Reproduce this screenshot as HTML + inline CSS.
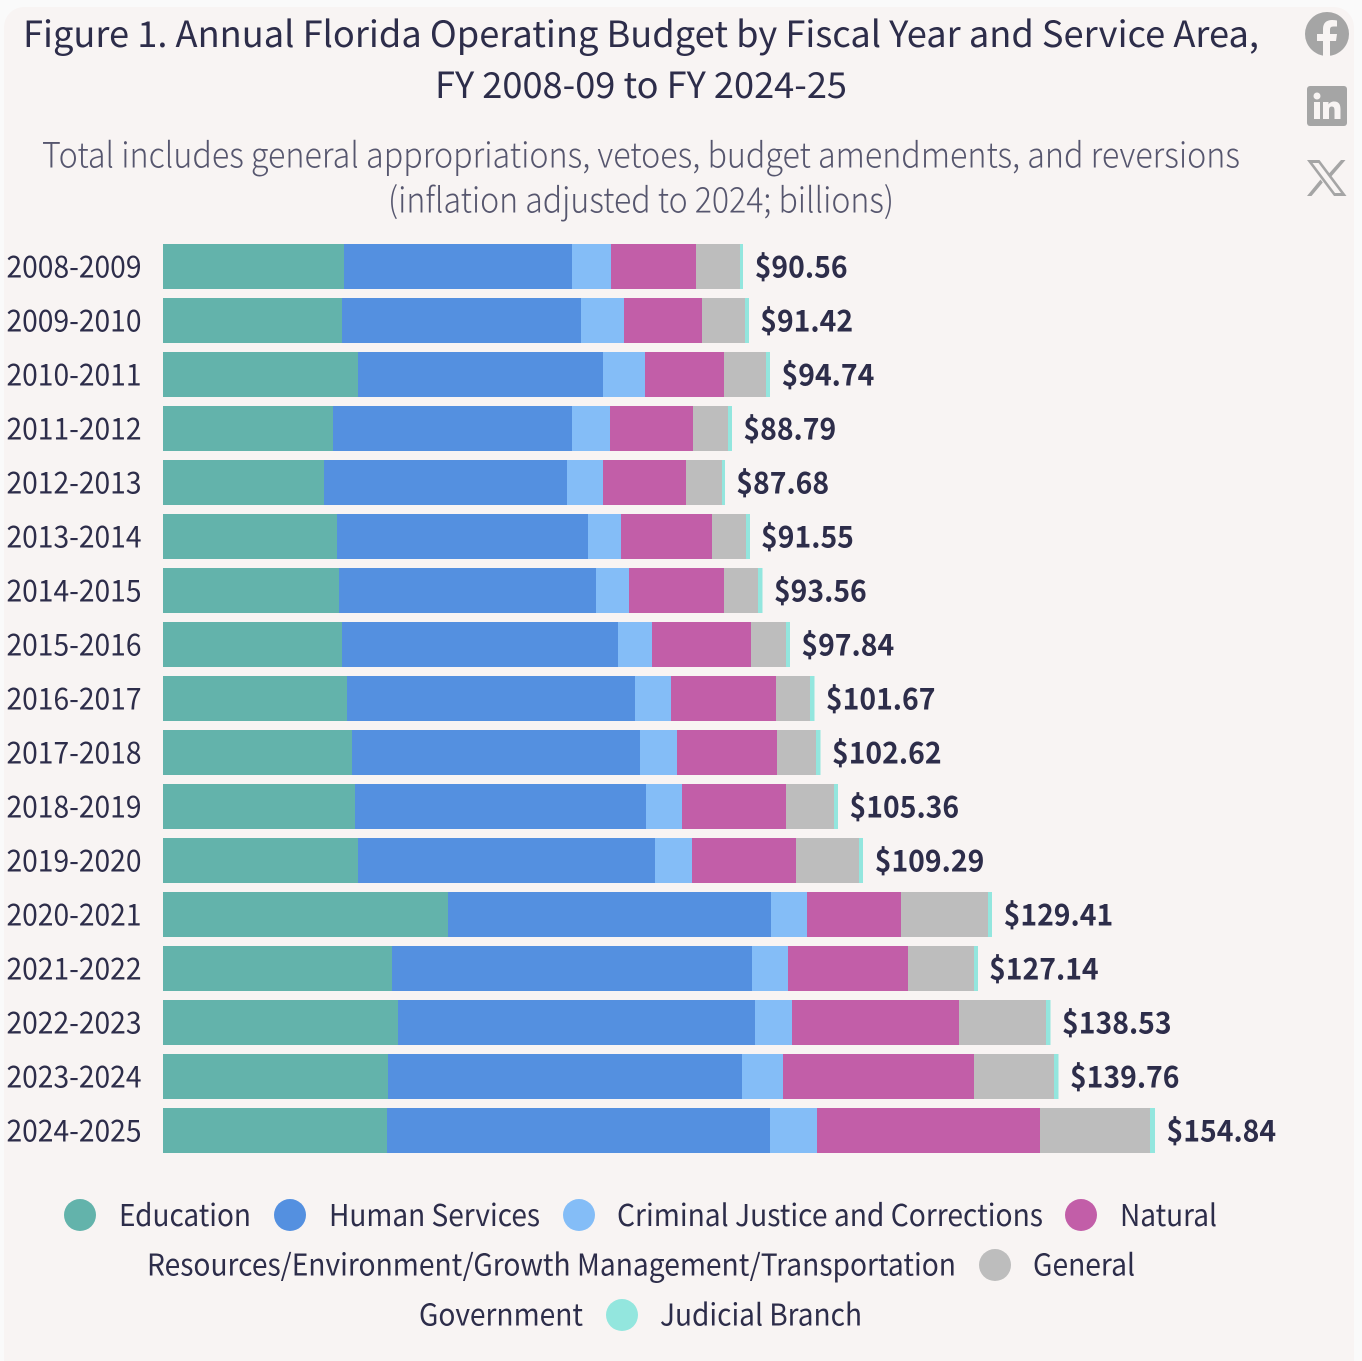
<!DOCTYPE html>
<html lang="en">
<head>
<meta charset="utf-8">
<title>Annual Florida Operating Budget</title>
<style>
html,body{margin:0;padding:0;background:#fafafa;width:1362px;height:1361px;overflow:hidden}
svg{display:block}
text{font-family:"Noto Sans CJK JP","Liberation Sans",sans-serif;fill:#2d2d4a}
.title{font-size:36px}
.sub{font-size:35px;font-weight:300;fill:#56566e}
.leg{font-size:30px}
.year{font-size:30px}
.val{font-size:30px;font-weight:700}
</style>
</head>
<body>
<svg id="chart" xmlns="http://www.w3.org/2000/svg" width="1362" height="1361" viewBox="0 0 1362 1361">
  <path d="M4 1361V27a20 20 0 0 1 20-20H1334a20 20 0 0 1 20 20V1361Z" fill="#f8f4f3"/>
  <text class="title" x="23" y="47" textLength="1236" lengthAdjust="spacingAndGlyphs">Figure 1. Annual Florida Operating Budget by Fiscal Year and Service Area,</text>
  <text class="title" x="435" y="98" textLength="412" lengthAdjust="spacingAndGlyphs">FY 2008-09 to FY 2024-25</text>
  <text class="sub" x="42" y="167.500" textLength="1198" lengthAdjust="spacingAndGlyphs">Total includes general appropriations, vetoes, budget amendments, and reversions</text>
  <text class="sub" x="388" y="212.500" textLength="506" lengthAdjust="spacingAndGlyphs">(inflation adjusted to 2024; billions)</text>

  <g>
    <circle cx="1327" cy="34" r="22" fill="#a5a5a5"/>
    <path d="M1323 56V41h-6v-7h6v-5c0-6 3.500-9 9-9 2.500 0 4.500.4 5 .5v6h-3.500c-3 0-3.500 1.500-3.500 3.500v4h7l-1 7h-6v15Z" fill="#f8f4f3"/>
  </g>
  <g>
    <rect x="1307" y="86" width="40" height="40" rx="3" fill="#a5a5a5"/>
    <rect x="1314" y="102" width="6" height="17" fill="#f8f4f3"/>
    <circle cx="1317" cy="96" r="3.500" fill="#f8f4f3"/>
    <path d="M1323 102h5.500v2.500c1-1.800 3-3 5.500-3 5 0 6.500 3 6.500 8V119h-6v-8.500c0-2.200-.5-4-2.800-4s-2.700 1.800-2.700 4V119h-6Z" fill="#f8f4f3"/>
  </g>
  <g>
    <path fill-rule="evenodd" d="M1307 160h12.500l27 36h-12.500ZM1312.500 163l22.500 30h6l-22.500-30Z" fill="#a5a5a5"/>
    <path d="M1341 160h4.500l-15.500 18-2.300-3Z" fill="#a5a5a5"/>
    <path d="M1320.500 179.500l2.300 3L1311.500 196H1307Z" fill="#a5a5a5"/>
  </g>

  <g id="bars"></g>

  <g>
    <circle cx="80" cy="1215" r="16" fill="#63b3ab"/>
    <text class="leg" x="119" y="1226" textLength="132" lengthAdjust="spacingAndGlyphs">Education</text>
    <circle cx="290" cy="1215" r="16" fill="#5490e0"/>
    <text class="leg" x="329" y="1226" textLength="211" lengthAdjust="spacingAndGlyphs">Human Services</text>
    <circle cx="579" cy="1215" r="16" fill="#84bdf7"/>
    <text class="leg" x="617" y="1226" textLength="426" lengthAdjust="spacingAndGlyphs">Criminal Justice and Corrections</text>
    <circle cx="1081" cy="1215" r="16" fill="#c25ea8"/>
    <text class="leg" x="1120" y="1226" textLength="97" lengthAdjust="spacingAndGlyphs">Natural</text>
    <text class="leg" x="147" y="1275.500" textLength="809" lengthAdjust="spacingAndGlyphs">Resources/Environment/Growth Management/Transportation</text>
    <circle cx="995" cy="1265" r="16" fill="#bdbdbd"/>
    <text class="leg" x="1033" y="1275.500" textLength="102" lengthAdjust="spacingAndGlyphs">General</text>
    <text class="leg" x="419" y="1325.500" textLength="164" lengthAdjust="spacingAndGlyphs">Government</text>
    <circle cx="622" cy="1315" r="16" fill="#93e6de"/>
    <text class="leg" x="660" y="1325.500" textLength="202" lengthAdjust="spacingAndGlyphs">Judicial Branch</text>
  </g>
</svg>
<script>
const categories = ["2008-2009","2009-2010","2010-2011","2011-2012","2012-2013","2013-2014","2014-2015","2015-2016","2016-2017","2017-2018","2018-2019","2019-2020","2020-2021","2021-2022","2022-2023","2023-2024","2024-2025"];
const education = [28.25,27.94,30.44,26.53,25.13,27.16,27.47,27.94,28.72,29.50,29.97,30.44,44.48,35.74,36.68,35.12,34.96];
const humanServices = [35.59,37.30,38.24,37.30,37.93,39.18,40.11,43.08,44.95,44.95,45.42,46.36,50.41,56.19,55.72,55.25,59.78];
const criminalJustice = [6.09,6.71,6.56,5.93,5.62,5.15,5.15,5.31,5.62,5.77,5.62,5.77,5.62,5.62,5.77,6.40,7.34];
const naturalResources = [13.27,12.17,12.33,12.95,12.95,14.20,14.83,15.45,16.39,15.61,16.23,16.23,14.67,18.73,26.07,29.81,34.81];
const generalGovernment = [6.87,6.71,6.56,5.46,5.62,5.31,5.31,5.46,5.31,6.09,7.49,9.83,13.58,10.30,13.58,12.49,17.17];
const judicialBranch = [0.49,0.62,0.61,0.62,0.47,0.62,0.70,0.62,0.72,0.72,0.62,0.62,0.62,0.62,0.72,0.72,0.78];
const totals = [90.56,91.42,94.74,88.79,87.68,91.55,93.56,97.84,101.67,102.62,105.36,109.29,129.41,127.14,138.53,139.76,154.84];

const seriesValues = [education, humanServices, criminalJustice, naturalResources, generalGovernment, judicialBranch];
const seriesKeys = ["education","human-services","criminal-justice","natural-resources","general-government","judicial-branch"];
const seriesColors = ["#63b3ab","#5490e0","#84bdf7","#c25ea8","#bdbdbd","#93e6de"];

const NS = "http://www.w3.org/2000/svg";
const barsGroup = document.getElementById("bars");
function xScale(v) { return 163 + v * 6.407; }
function rowTop(i) { return 244 + i * 54; }
const barHeight = 45;

categories.forEach(function (cat, i) {
  const label = document.createElementNS(NS, "text");
  label.setAttribute("class", "year");
  label.setAttribute("x", 6.5);
  label.setAttribute("y", rowTop(i) + 33.5);
  label.setAttribute("textLength", 135);
  label.setAttribute("lengthAdjust", "spacingAndGlyphs");
  
  
  label.textContent = cat;
  barsGroup.appendChild(label);

  let cum = 0;
  seriesValues.forEach(function (series, s) {
    const rect = document.createElementNS(NS, "rect");
    const x0 = xScale(cum);
    cum += series[i];
    rect.setAttribute("x", x0);
    rect.setAttribute("y", rowTop(i));
    rect.setAttribute("width", xScale(cum) - x0);
    rect.setAttribute("height", barHeight);
    rect.setAttribute("fill", seriesColors[s]);
    rect.setAttribute("shape-rendering", "crispEdges");
    
    
    rect.setAttribute("data-series", seriesKeys[s]);
    barsGroup.appendChild(rect);
  });

  const val = document.createElementNS(NS, "text");
  val.setAttribute("class", "val");
  val.setAttribute("x", xScale(totals[i]) + 11.5);
  val.setAttribute("y", rowTop(i) + 33.5);
  
  
  val.textContent = "$" + totals[i].toFixed(2);
  barsGroup.appendChild(val);
  val.setAttribute("textLength", val.getComputedTextLength() * 0.945);
  val.setAttribute("lengthAdjust", "spacingAndGlyphs");
});
</script>
</body>
</html>
